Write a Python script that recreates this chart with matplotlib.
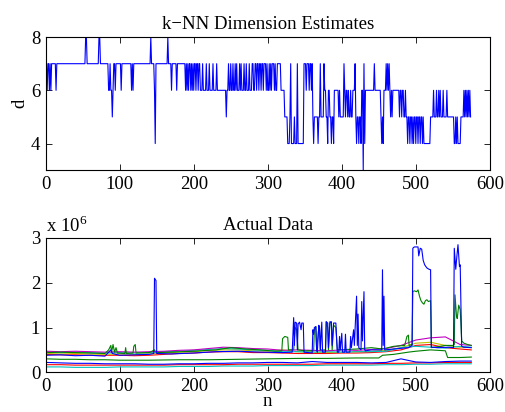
import numpy as np
import matplotlib
matplotlib.use('Agg')
import matplotlib.pyplot as plt

plt.rcParams['font.family'] = ['Liberation Serif', 'DejaVu Serif']
plt.rcParams['mathtext.fontset'] = 'custom'
plt.rcParams['mathtext.rm'] = 'Liberation Serif'

# --- top: k-NN dimension estimates, run-length coded (start n, value) ---
dim_start = [1, 2, 3, 5, 6, 7, 8, 14, 15, 54, 56, 72, 74, 85, 87, 88, 90, 91, 92, 94,
             95, 102, 103, 116, 117, 118, 119, 142, 143, 147, 148, 149, 165, 166, 170, 171,
             177, 178, 189, 190, 191, 192, 193, 194, 196, 197, 198, 199, 200, 201, 203, 204,
             206, 207, 209, 212, 213, 217, 218, 221, 222, 226, 227, 231, 232, 244, 245, 247,
             248, 250, 251, 253, 254, 256, 257, 258, 259, 262, 263, 264, 265, 268, 269, 271,
             272, 275, 276, 279, 281, 283, 285, 286, 288, 289, 291, 292, 294, 295, 298, 299,
             300, 302, 303, 304, 305, 306, 309, 310, 311, 313, 318, 320, 323, 327, 330, 331,
             332, 336, 337, 340, 341, 349, 352, 353, 356, 357, 359, 360, 361, 362, 363, 368,
             369, 371, 372, 376, 377, 379, 381, 382, 384, 386, 387, 389, 390, 396, 397, 398,
             403, 404, 405, 406, 408, 409, 410, 412, 413, 415, 418, 419, 420, 421, 423, 424,
             426, 427, 429, 430, 431, 432, 444, 445, 453, 454, 455, 456, 457, 460, 461, 462,
             463, 464, 465, 466, 467, 468, 469, 478, 479, 481, 482, 484, 486, 487, 489, 490,
             492, 493, 495, 496, 497, 498, 500, 501, 503, 504, 506, 507, 509, 510, 511, 520,
             524, 525, 528, 529, 531, 532, 533, 534, 537, 538, 542, 543, 552, 554, 555, 556,
             557, 561, 565, 566, 567, 568, 569, 570, 571, 572, 573, 574]
dim_value = [7, 6, 7, 6, 7, 6, 7, 6, 7, 8, 7, 8, 7, 6, 7, 6, 5, 6, 7, 6,
             7, 6, 7, 6, 7, 6, 7, 8, 7, 6, 4, 7, 8, 7, 6, 7,
             6, 7, 6, 7, 6, 7, 6, 7, 6, 7, 6, 7, 6, 7, 6, 7,
             6, 7, 6, 7, 6, 7, 6, 7, 6, 7, 6, 7, 6, 5, 6, 7,
             6, 7, 6, 7, 6, 7, 6, 7, 6, 7, 6, 7, 6, 7, 6, 7,
             6, 7, 6, 7, 6, 7, 6, 7, 6, 7, 6, 7, 6, 7, 6, 7,
             6, 7, 6, 7, 6, 7, 6, 7, 6, 7, 6, 6, 5, 4, 5, 7,
             4, 5, 4, 7, 4, 7, 6, 7, 6, 7, 6, 7, 5, 4, 5, 4,
             5, 7, 5, 7, 6, 5, 4, 6, 5, 4, 5, 4, 6, 5, 6, 5,
             7, 6, 5, 6, 5, 6, 5, 6, 5, 6, 7, 5, 4, 5, 4, 5,
             4, 6, 3, 7, 4, 6, 7, 6, 5, 4, 5, 4, 6, 7, 6, 7,
             6, 7, 6, 5, 6, 5, 6, 5, 6, 5, 6, 5, 6, 5, 4, 5,
             4, 5, 4, 5, 4, 5, 4, 5, 4, 5, 4, 5, 4, 5, 4, 5,
             6, 5, 6, 5, 6, 5, 6, 5, 6, 5, 6, 5, 4, 5, 4, 5,
             4, 5, 6, 5, 6, 5, 6, 5, 6, 5, 6, 5]

# --- bottom: actual data (values in units of 1e6) ---
big_blue_n = [1, 20, 40, 60, 80, 88, 90, 100, 120, 140, 146, 147, 149, 150, 170, 200, 230, 260,
              290, 320, 333, 335, 336, 337, 339, 340, 341, 343, 345, 346, 348, 349, 360, 361,
              362, 363, 365, 366, 367, 369, 370, 371, 373, 374, 378, 379, 381, 382, 384, 386,
              387, 389, 392, 394, 396, 397, 398, 400, 401, 404, 405, 406, 411, 412, 413, 416,
              417, 420, 421, 422, 423, 426, 427, 428, 430, 431, 432, 440, 454, 455, 456, 457,
              458, 470, 490, 495, 496, 498, 500, 503, 504, 506, 508, 510, 512, 515, 518, 520,
              521, 530, 545, 551, 552, 554, 555, 557, 559, 560, 562, 565, 575]
big_blue_v = [0.38, 0.39, 0.37, 0.38, 0.36, 0.50, 0.42, 0.38, 0.39, 0.40, 0.42, 2.10, 2.05, 0.42,
              0.41, 0.43, 0.46, 0.47, 0.45, 0.44, 0.45, 1.22, 0.60, 1.12, 1.10, 0.50, 1.08, 1.12,
              0.95, 1.10, 1.10, 0.45, 0.43, 0.95, 0.85, 1.00, 1.02, 0.50, 0.45, 1.05, 1.00, 0.50,
              1.12, 0.45, 0.45, 1.13, 1.10, 0.55, 1.13, 1.12, 0.60, 1.10, 1.10, 0.45, 0.45, 0.80,
              0.50, 0.87, 0.45, 0.45, 0.85, 0.45, 0.45, 0.80, 0.55, 0.95, 0.60, 1.70, 0.60, 1.30,
              0.55, 0.50, 1.58, 0.70, 1.80, 0.50, 0.48, 0.50, 0.50, 2.29, 0.60, 1.70, 0.50, 0.52,
              0.55, 0.60, 2.77, 2.80, 2.80, 2.80, 2.60, 2.77, 2.75, 2.50, 2.40, 2.33, 2.30, 2.29,
              0.56, 0.55, 0.56, 0.55, 2.77, 2.30, 2.50, 2.85, 2.36, 2.40, 0.58, 0.56, 0.55]

big_green_n = [1, 20, 40, 60, 80, 85, 88, 89, 91, 93, 95, 97, 107, 108, 109, 118, 119, 121, 122,
               140, 147, 149, 170, 200, 230, 250, 270, 290, 310, 319, 320, 323, 327, 328, 335,
               337, 339, 341, 350, 362, 363, 365, 366, 369, 370, 371, 378, 379, 381, 382, 384,
               386, 387, 389, 392, 394, 420, 440, 455, 470, 485, 488, 490, 491, 495, 496, 498,
               501, 503, 505, 507, 509, 511, 513, 515, 517, 520, 521, 540, 550, 552, 553, 555,
               556, 558, 560, 562, 565, 570, 575]
big_green_v = [0.44, 0.45, 0.44, 0.43, 0.42, 0.50, 0.60, 0.45, 0.62, 0.45, 0.55, 0.43, 0.42, 0.55,
               0.42, 0.43, 0.58, 0.62, 0.43, 0.44, 0.50, 0.44, 0.45, 0.47, 0.50, 0.55, 0.52, 0.50,
               0.47, 0.48, 0.75, 0.80, 0.78, 0.50, 0.50, 1.00, 0.95, 0.50, 0.48, 0.48, 0.95, 1.02,
               0.50, 1.00, 0.95, 0.50, 0.50, 1.13, 1.00, 0.50, 1.10, 1.13, 0.50, 1.05, 1.00, 0.50,
               0.52, 0.55, 0.52, 0.58, 0.60, 0.80, 0.83, 0.60, 0.62, 1.80, 1.82, 1.80, 1.84, 1.70,
               1.60, 1.55, 1.52, 1.60, 1.62, 1.58, 1.60, 0.55, 0.60, 0.60, 0.62, 1.73, 1.25, 1.20,
               1.50, 1.40, 0.70, 0.65, 0.62, 0.60]

grid_n = [1, 20, 40, 60, 80, 100, 120, 140, 160, 180, 200, 220, 240, 260, 280, 300, 320, 340,
          360, 380, 400, 420, 440, 460, 480, 500, 520, 540, 560, 575]
magenta_v = [0.47, 0.46, 0.47, 0.46, 0.45, 0.46, 0.45, 0.46, 0.47, 0.49, 0.50, 0.53, 0.56, 0.55,
             0.53, 0.52, 0.49, 0.50, 0.49, 0.48, 0.50, 0.49, 0.51, 0.53, 0.60, 0.72, 0.77, 0.79,
             0.62, 0.60]
cyan_v = [0.45, 0.44, 0.45, 0.44, 0.43, 0.44, 0.43, 0.44, 0.46, 0.47, 0.49, 0.51, 0.53, 0.52,
          0.50, 0.49, 0.46, 0.46, 0.45, 0.46, 0.45, 0.46, 0.46, 0.47, 0.55, 0.58, 0.56, 0.54,
          0.58, 0.56]
yellow_v = [0.42, 0.41, 0.42, 0.41, 0.40, 0.41, 0.40, 0.41, 0.43, 0.45, 0.46, 0.49, 0.50, 0.50,
            0.48, 0.47, 0.50, 0.46, 0.45, 0.44, 0.45, 0.46, 0.47, 0.49, 0.55, 0.65, 0.67, 0.60,
            0.56, 0.55]
red_hi_v = [0.40, 0.39, 0.39, 0.38, 0.38, 0.38, 0.37, 0.38, 0.40, 0.42, 0.43, 0.45, 0.46, 0.46,
            0.44, 0.44, 0.43, 0.42, 0.42, 0.42, 0.43, 0.43, 0.44, 0.46, 0.50, 0.60, 0.62, 0.55,
            0.52, 0.50]
blue_lo_v = [0.22, 0.21, 0.20, 0.20, 0.19, 0.19, 0.19, 0.18, 0.18, 0.19, 0.19, 0.20, 0.20, 0.21,
             0.21, 0.22, 0.22, 0.21, 0.24, 0.22, 0.22, 0.22, 0.21, 0.22, 0.30, 0.23, 0.22, 0.24,
             0.25, 0.25]
red_lo_v = [0.17, 0.17, 0.16, 0.16, 0.16, 0.16, 0.16, 0.16, 0.16, 0.17, 0.17, 0.17, 0.17, 0.18,
            0.18, 0.18, 0.18, 0.18, 0.18, 0.19, 0.19, 0.19, 0.19, 0.20, 0.20, 0.21, 0.21, 0.22,
            0.22, 0.22]
cyan_lo_v = [0.12, 0.12, 0.11, 0.11, 0.11, 0.12, 0.12, 0.12, 0.12, 0.13, 0.13, 0.13, 0.14, 0.14,
             0.14, 0.15, 0.15, 0.15, 0.15, 0.16, 0.16, 0.16, 0.16, 0.17, 0.17, 0.18, 0.18, 0.19,
             0.19, 0.19]
green_lo_n = [1, 20, 40, 60, 80, 100, 140, 180, 220, 260, 300, 340, 380, 420, 450, 455, 470, 490,
              500, 520, 540, 543, 560, 575]
green_lo_v = [0.30, 0.29, 0.29, 0.28, 0.28, 0.27, 0.27, 0.28, 0.28, 0.29, 0.30, 0.31, 0.31, 0.32,
              0.32, 0.38, 0.40, 0.45, 0.47, 0.50, 0.48, 0.33, 0.33, 0.34]

# MATLAB default colours
mb = (0, 0, 1)
mg = (0, 0.5, 0)
mr = (1, 0, 0)
mc = (0, 0.75, 0.75)
mm = (0.75, 0, 0.75)
my = (0.75, 0.75, 0)

# expand run-length code to one value per n
dim_n = np.arange(dim_start[0], dim_start[-1] + 1)
lengths = np.diff(dim_start + [dim_start[-1] + 1])
dim = np.repeat(dim_value, lengths)

fig = plt.figure(figsize=(5.06, 4.12), dpi=100)
ax1 = fig.add_axes([0.0903, 0.587, 0.8777, 0.323])
ax2 = fig.add_axes([0.0903, 0.0964, 0.8777, 0.326])

fs = 13.5
lw = 0.8
ax1.plot(dim_n, dim, color=mb, linewidth=lw)
ax1.set_xlim(0, 600)
ax1.set_ylim(3, 8)
ax1.set_yticks([4, 6, 8])
ax1.set_xticks(range(0, 601, 100))
ax1.set_ylabel('d', fontsize=fs, labelpad=2)
ax1.set_title('k\u2212NN Dimension Estimates', fontsize=13.5, pad=6)

s = 1e6
lines = [
    (grid_n, cyan_lo_v, mc),
    (grid_n, red_lo_v, mr),
    (grid_n, blue_lo_v, mb),
    (green_lo_n, green_lo_v, mg),
    (grid_n, red_hi_v, mr),
    (grid_n, yellow_v, my),
    (grid_n, cyan_v, mc),
    (grid_n, magenta_v, mm),
    (big_green_n, big_green_v, mg),
    (big_blue_n, big_blue_v, mb),
]
for xs, ys, c in lines:
    ax2.plot(xs, np.array(ys) * s, color=c, linewidth=lw)

ax2.set_xlim(0, 600)
ax2.set_ylim(0, 3 * s)
ax2.set_xticks(range(0, 601, 100))
ax2.set_yticks([0, 1 * s, 2 * s, 3 * s])
ax2.set_yticklabels(['0', '1', '2', '3'])
ax2.set_xlabel('n', fontsize=fs, labelpad=-1)
ax2.set_title('Actual Data', fontsize=13.5, pad=6)
ax2.text(0.0, 1.045, 'x 10$^{6}$', transform=ax2.transAxes, fontsize=fs,
         ha='left', va='baseline')

for ax in (ax1, ax2):
    ax.tick_params(direction='in', top=True, right=True, length=4, width=0.6,
                   labelsize=fs, pad=4)
    for sp in ax.spines.values():
        sp.set_linewidth(0.8)

fig.savefig('out.png', dpi=100)
